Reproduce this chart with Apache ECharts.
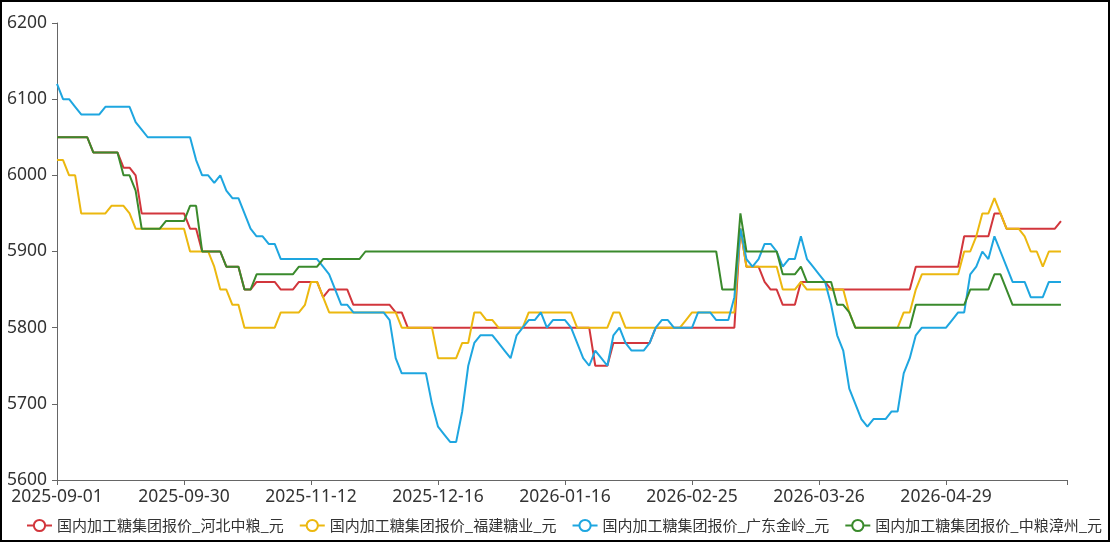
<!DOCTYPE html>
<html>
<head>
<meta charset="utf-8">
<title>国内加工糖集团报价</title>
<script src="https://cdn.jsdelivr.net/npm/echarts@6/dist/echarts.min.js"></script>
<style>
    html, body { margin: 0; padding: 0; background: #fff; }
    #wrap { position: relative; width: 1110px; height: 542px; }
    #main { width: 1110px; height: 542px; }
    #frame { position: absolute; left: 0; top: 0; width: 1110px; height: 542px; box-sizing: border-box; border: 2px solid #000; pointer-events: none; }
</style>
</head>
<body>
<div id="wrap">
    <div id="main"></div>
    <div id="frame"></div>
</div>
<script>
// 横轴上显示出来的日期（每 21 个点一个）
const labelDates = ['2025-09-01', '2025-09-30', '2025-11-12', '2025-12-16', '2026-01-16', '2026-02-25', '2026-03-26', '2026-04-29']

const seriesNames = [
    '国内加工糖集团报价_河北中粮_元',
    '国内加工糖集团报价_福建糖业_元',
    '国内加工糖集团报价_广东金岭_元',
    '国内加工糖集团报价_中粮漳州_元'
]
const colors = ['#d2363c', '#ecb80f', '#1ea6e0', '#3a8a2c']

// 河北中粮
const hebei = [
    6050, 6050, 6050, 6050, 6050, 6050, 6030, 6030, 6030, 6030,
    6030, 6010, 6010, 6000, 5950, 5950, 5950, 5950, 5950, 5950,
    5950, 5950, 5930, 5930, 5900, 5900, 5900, 5900, 5880, 5880,
    5880, 5850, 5850, 5860, 5860, 5860, 5860, 5850, 5850, 5850,
    5860, 5860, 5860, 5860, 5840, 5850, 5850, 5850, 5850, 5830,
    5830, 5830, 5830, 5830, 5830, 5830, 5820, 5820, 5800, 5800,
    5800, 5800, 5800, 5800, 5800, 5800, 5800, 5800, 5800, 5800,
    5800, 5800, 5800, 5800, 5800, 5800, 5800, 5800, 5800, 5800,
    5800, 5800, 5800, 5800, 5800, 5800, 5800, 5800, 5800, 5750,
    5750, 5750, 5780, 5780, 5780, 5780, 5780, 5780, 5780, 5800,
    5800, 5800, 5800, 5800, 5800, 5800, 5800, 5800, 5800, 5800,
    5800, 5800, 5800, 5930, 5880, 5880, 5880, 5860, 5850, 5850,
    5830, 5830, 5830, 5860, 5860, 5860, 5860, 5860, 5850, 5850,
    5850, 5850, 5850, 5850, 5850, 5850, 5850, 5850, 5850, 5850,
    5850, 5850, 5880, 5880, 5880, 5880, 5880, 5880, 5880, 5880,
    5920, 5920, 5920, 5920, 5920, 5950, 5950, 5930, 5930, 5930,
    5930, 5930, 5930, 5930, 5930, 5930, 5940
]

// 福建糖业
const fujian = [
    6020, 6020, 6000, 6000, 5950, 5950, 5950, 5950, 5950, 5960,
    5960, 5960, 5950, 5930, 5930, 5930, 5930, 5930, 5930, 5930,
    5930, 5930, 5900, 5900, 5900, 5900, 5880, 5850, 5850, 5830,
    5830, 5800, 5800, 5800, 5800, 5800, 5800, 5820, 5820, 5820,
    5820, 5830, 5860, 5860, 5840, 5820, 5820, 5820, 5820, 5820,
    5820, 5820, 5820, 5820, 5820, 5820, 5820, 5800, 5800, 5800,
    5800, 5800, 5800, 5760, 5760, 5760, 5760, 5780, 5780, 5820,
    5820, 5810, 5810, 5800, 5800, 5800, 5800, 5800, 5820, 5820,
    5820, 5820, 5820, 5820, 5820, 5820, 5800, 5800, 5800, 5800,
    5800, 5800, 5820, 5820, 5800, 5800, 5800, 5800, 5800, 5800,
    5800, 5800, 5800, 5800, 5810, 5820, 5820, 5820, 5820, 5820,
    5820, 5820, 5820, 5930, 5880, 5880, 5880, 5880, 5880, 5880,
    5850, 5850, 5850, 5860, 5850, 5850, 5850, 5850, 5850, 5850,
    5850, 5820, 5800, 5800, 5800, 5800, 5800, 5800, 5800, 5800,
    5820, 5820, 5850, 5870, 5870, 5870, 5870, 5870, 5870, 5870,
    5900, 5900, 5920, 5950, 5950, 5970, 5950, 5930, 5930, 5930,
    5920, 5900, 5900, 5880, 5900, 5900, 5900
]

// 广东金岭
const guangdong = [
    6120, 6100, 6100, 6090, 6080, 6080, 6080, 6080, 6090, 6090,
    6090, 6090, 6090, 6070, 6060, 6050, 6050, 6050, 6050, 6050,
    6050, 6050, 6050, 6020, 6000, 6000, 5990, 6000, 5980, 5970,
    5970, 5950, 5930, 5920, 5920, 5910, 5910, 5890, 5890, 5890,
    5890, 5890, 5890, 5890, 5880, 5870, 5850, 5830, 5830, 5820,
    5820, 5820, 5820, 5820, 5820, 5810, 5760, 5740, 5740, 5740,
    5740, 5740, 5700, 5670, 5660, 5650, 5650, 5690, 5750, 5780,
    5790, 5790, 5790, 5780, 5770, 5760, 5790, 5800, 5810, 5810,
    5820, 5800, 5810, 5810, 5810, 5800, 5780, 5760, 5750, 5770,
    5760, 5750, 5790, 5800, 5780, 5770, 5770, 5770, 5780, 5800,
    5810, 5810, 5800, 5800, 5800, 5800, 5820, 5820, 5820, 5810,
    5810, 5810, 5840, 5930, 5890, 5880, 5890, 5910, 5910, 5900,
    5880, 5890, 5890, 5920, 5890, 5880, 5870, 5860, 5830, 5790,
    5770, 5720, 5700, 5680, 5670, 5680, 5680, 5680, 5690, 5690,
    5740, 5760, 5790, 5800, 5800, 5800, 5800, 5800, 5810, 5820,
    5820, 5870, 5880, 5900, 5890, 5920, 5900, 5880, 5860, 5860,
    5860, 5840, 5840, 5840, 5860, 5860, 5860
]

// 中粮漳州
const zhangzhou = [
    6050, 6050, 6050, 6050, 6050, 6050, 6030, 6030, 6030, 6030,
    6030, 6000, 6000, 5980, 5930, 5930, 5930, 5930, 5940, 5940,
    5940, 5940, 5960, 5960, 5900, 5900, 5900, 5900, 5880, 5880,
    5880, 5850, 5850, 5870, 5870, 5870, 5870, 5870, 5870, 5870,
    5880, 5880, 5880, 5880, 5890, 5890, 5890, 5890, 5890, 5890,
    5890, 5900, 5900, 5900, 5900, 5900, 5900, 5900, 5900, 5900,
    5900, 5900, 5900, 5900, 5900, 5900, 5900, 5900, 5900, 5900,
    5900, 5900, 5900, 5900, 5900, 5900, 5900, 5900, 5900, 5900,
    5900, 5900, 5900, 5900, 5900, 5900, 5900, 5900, 5900, 5900,
    5900, 5900, 5900, 5900, 5900, 5900, 5900, 5900, 5900, 5900,
    5900, 5900, 5900, 5900, 5900, 5900, 5900, 5900, 5900, 5900,
    5850, 5850, 5850, 5950, 5900, 5900, 5900, 5900, 5900, 5900,
    5870, 5870, 5870, 5880, 5860, 5860, 5860, 5860, 5860, 5830,
    5830, 5820, 5800, 5800, 5800, 5800, 5800, 5800, 5800, 5800,
    5800, 5800, 5830, 5830, 5830, 5830, 5830, 5830, 5830, 5830,
    5830, 5850, 5850, 5850, 5850, 5870, 5870, 5850, 5830, 5830,
    5830, 5830, 5830, 5830, 5830, 5830, 5830
]

const yMin = 5600
const yMax = 6200
const yStep = 100

// 横轴类目：标出来的日期之间补上工作日（图上看不到，只是占位）
const fmt = (d) => d.toISOString().slice(0, 10)
const weekdaysBetween = (a, b) => {
    let out = []
    let d = new Date(a + 'T00:00:00Z')
    const end = new Date(b + 'T00:00:00Z')
    d.setUTCDate(d.getUTCDate() + 1)
    while (d < end) {
        if (d.getUTCDay() !== 0 && d.getUTCDay() !== 6) out.push(fmt(d))
        d.setUTCDate(d.getUTCDate() + 1)
    }
    return out
}
let categories = []
for (let i = 0; i < labelDates.length - 1; i++) {
    categories.push(labelDates[i])
    const days = weekdaysBetween(labelDates[i], labelDates[i + 1])
    for (let k = 0; k < 20; k++) {
        categories.push(days[Math.round((k + 1) * (days.length + 1) / 21) - 1])
    }
}
categories.push(labelDates[labelDates.length - 1])
let tail = weekdaysBetween(labelDates[labelDates.length - 1], '2026-07-01')
// 最后多留一个空类目（没有数据），轴比线长一点
categories = categories.concat(tail.slice(0, hebei.length + 1 - categories.length))
const lastIdx = categories.length - 1

const font = '"Microsoft YaHei", "Noto Sans CJK SC", sans-serif'
const numFont = '"Noto Sans", "Microsoft YaHei", sans-serif'

let myEcharts = echarts.init(document.getElementById('main'))
myEcharts.setOption({
    backgroundColor: '#fff',
    animation: false,
    color: colors,
    grid: {
        left: 57,
        right: 43,
        top: 23,
        bottom: 62
    },
    legend: {
        data: seriesNames,
        top: 513,
        left: 21,
        width: 1089,
        itemWidth: 25,
        itemHeight: 14,
        itemGap: 15,
        textStyle: {
            color: '#333',
            fontSize: 15,
            fontFamily: font
        }
    },
    xAxis: {
        type: 'category',
        boundaryGap: false,
        data: categories,
        axisLine: { lineStyle: { color: '#666' } },
        axisTick: {
            interval: (idx) => idx % 21 === 0 || idx === lastIdx,
            lineStyle: { color: '#666' }
        },
        axisLabel: {
            interval: (idx) => idx % 21 === 0 && idx !== lastIdx,
            color: '#333',
            fontSize: 17.5,
            fontFamily: numFont
        }
    },
    yAxis: {
        type: 'value',
        min: yMin,
        max: yMax,
        interval: yStep,
        splitLine: { show: false },
        axisLine: { show: true, lineStyle: { color: '#666' } },
        axisTick: { show: true, lineStyle: { color: '#666' } },
        axisLabel: {
            color: '#333',
            fontSize: 17.5,
            margin: 10,
            fontFamily: numFont,
            formatter: (v) => String(v)
        }
    },
    series: [hebei, fujian, guangdong, zhangzhou].map((arr, i) => ({
        name: seriesNames[i],
        type: 'line',
        data: arr,
        symbol: 'emptyCircle',
        showSymbol: false,
        lineStyle: { width: 2 }
    }))
})
</script>
</body>
</html>
